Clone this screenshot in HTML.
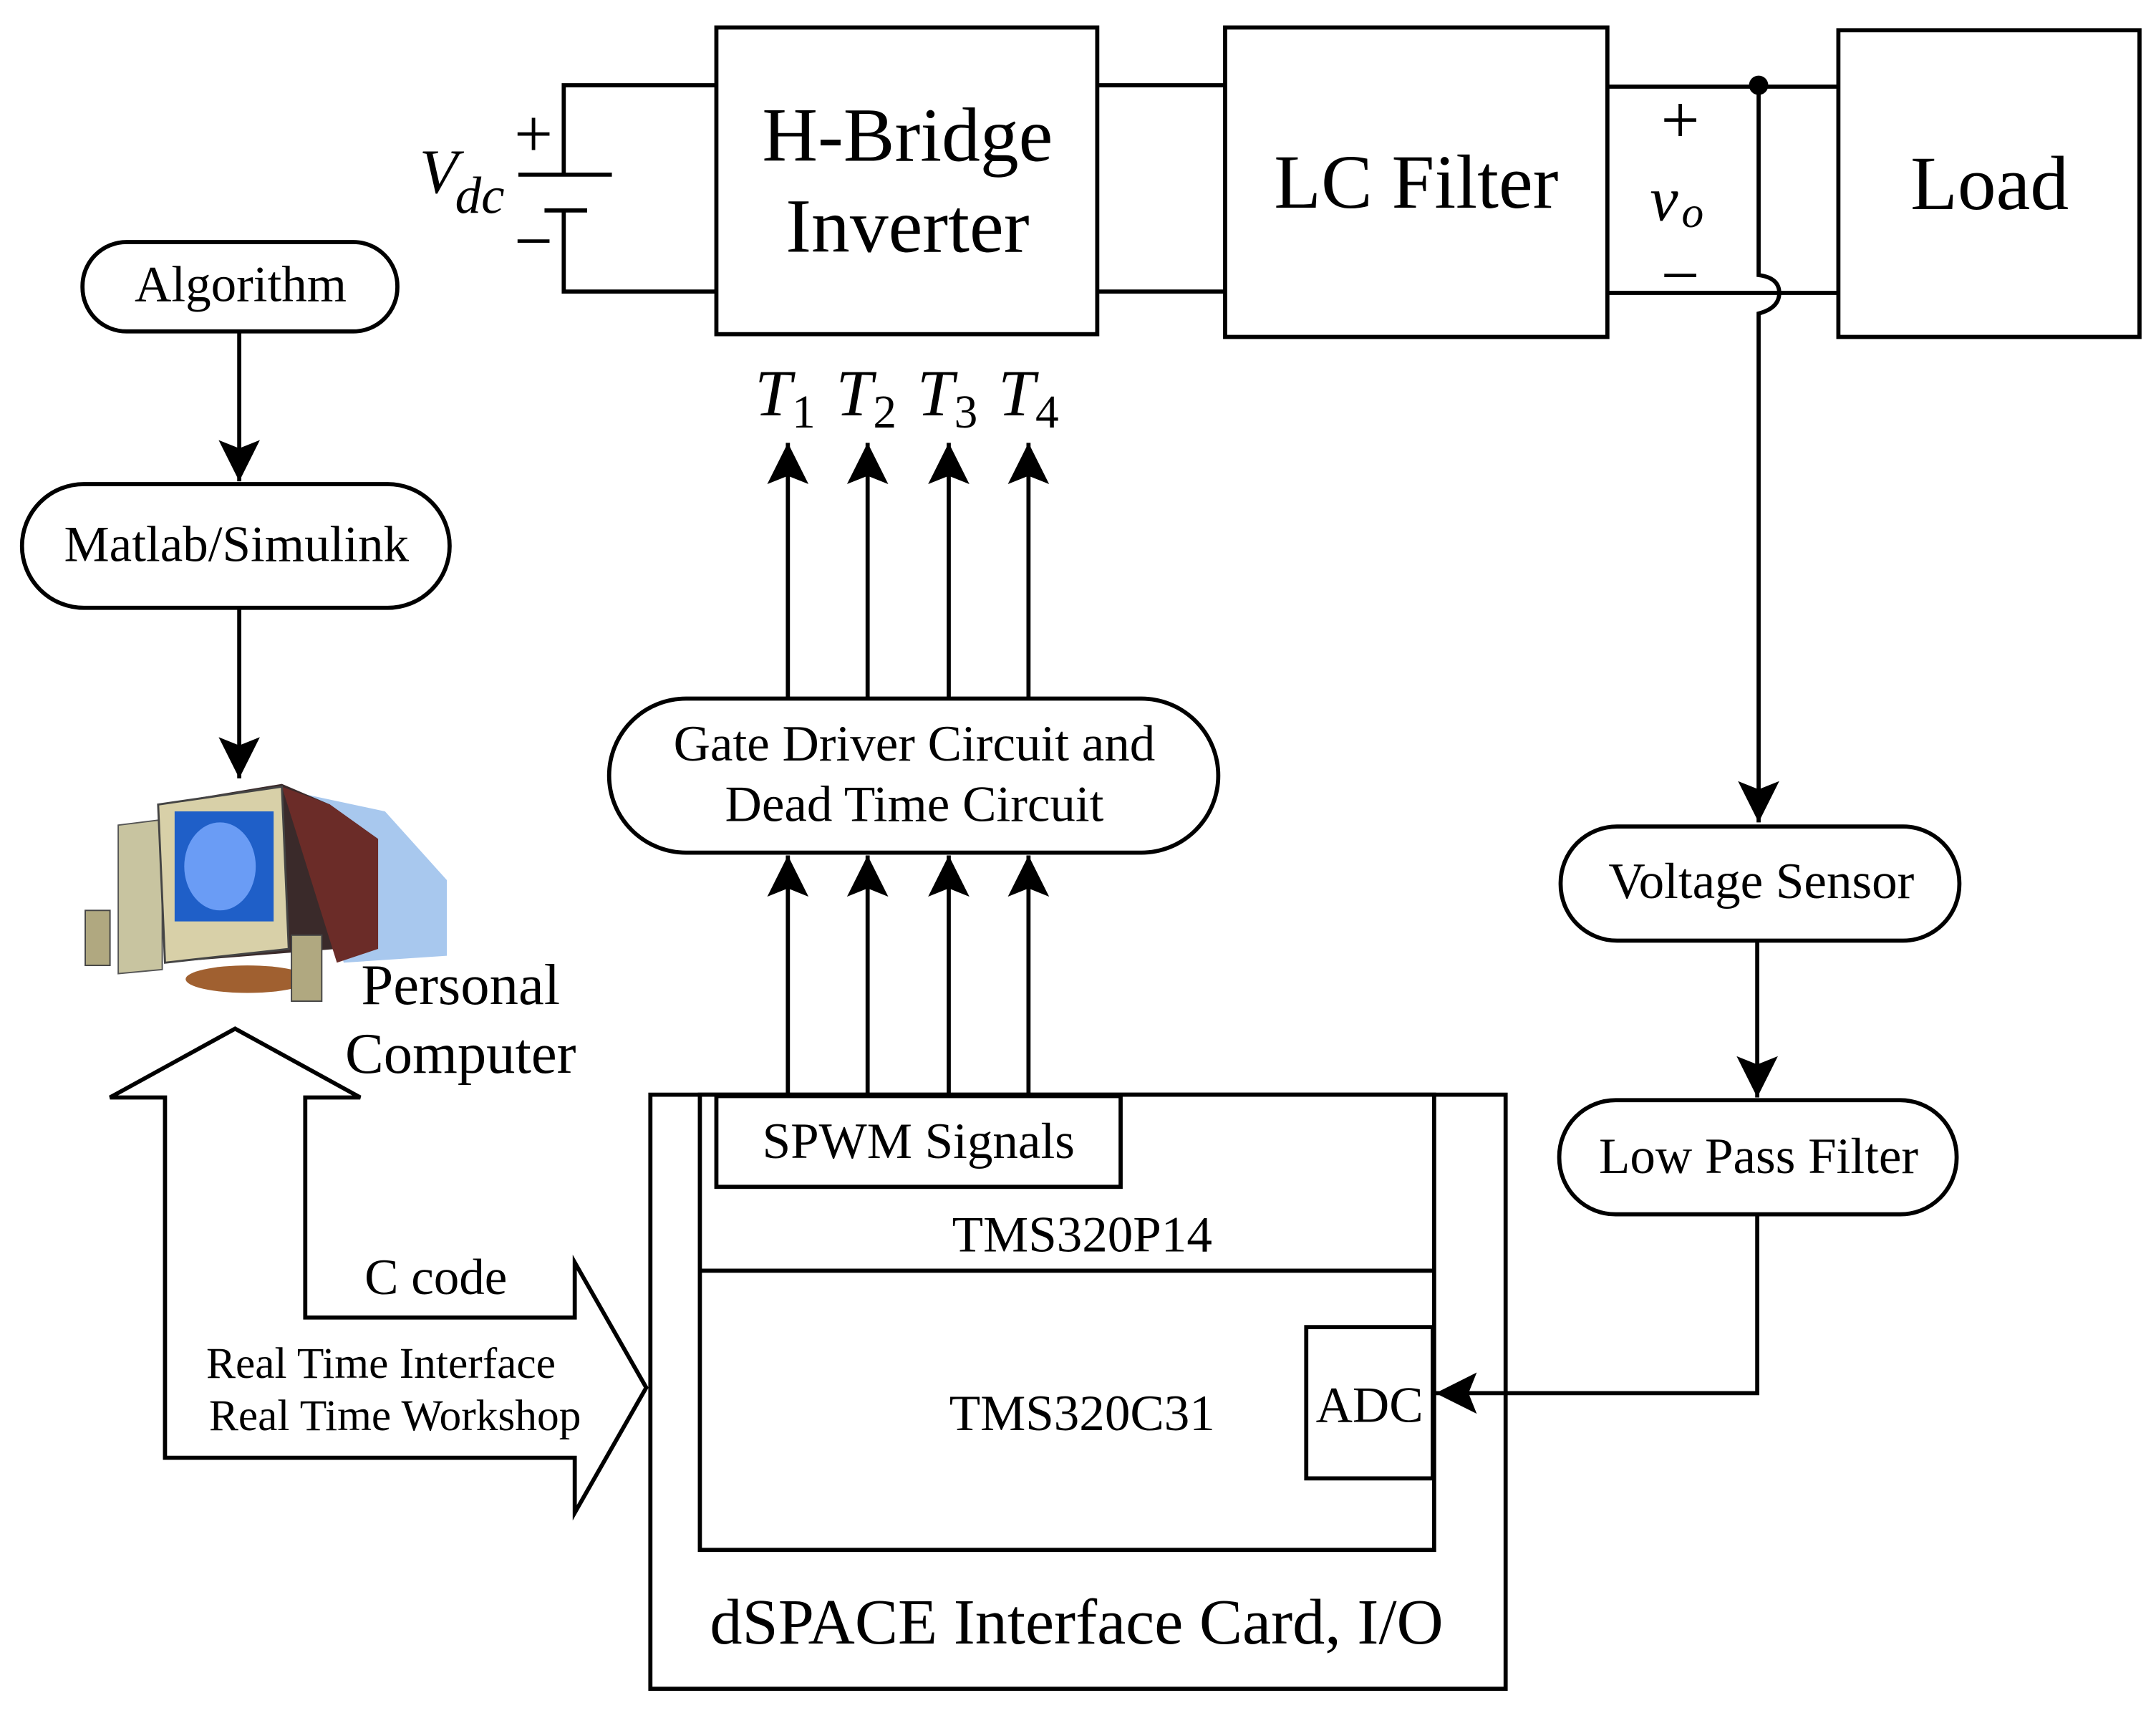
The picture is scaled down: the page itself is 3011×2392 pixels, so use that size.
<!DOCTYPE html>
<html><head><meta charset="utf-8"><style>
html,body{margin:0;padding:0;background:#fff}
svg{display:block}
text{font-family:"Liberation Serif",serif;fill:#000}
</style></head><body>
<svg width="3011" height="2392" viewBox="0 0 1568 1245.6" preserveAspectRatio="none" xmlns="http://www.w3.org/2000/svg">
<defs>
<marker id="ah" viewBox="0 0 30 30" refX="30" refY="15" markerWidth="30" markerHeight="30" markerUnits="userSpaceOnUse" orient="auto">
<path d="M0,0 L30,15 L0,30 L6,15 Z" fill="#000"/>
</marker>
</defs>
<g fill="none" stroke="#000" stroke-width="3">
<rect x="521" y="20" width="277" height="223"/>
<path d="M521,62 H410 V127 M377,127 H445 M396,153 H427 M410,153 V212 H521"/>
<path d="M798,62 H891 M798,212 H891"/>
<rect x="891" y="20" width="278" height="225"/>
<path d="M1169,63 H1337 M1169,213 H1337"/>
<rect x="1337" y="22" width="219" height="223"/>
<path d="M1279,62 V200 Q1294,202 1294,213 Q1294,224 1279,228 V598" marker-end="url(#ah)"/>
<rect x="1135" y="601" width="290" height="83" rx="41"/>
<path d="M1278,684 V798" marker-end="url(#ah)"/>
<rect x="1134" y="800" width="289" height="83" rx="41"/>
<path d="M1278,883 V1013 H1044" marker-end="url(#ah)"/>
<rect x="60" y="176" width="229" height="65" rx="32"/>
<path d="M174,241 V350" marker-end="url(#ah)"/>
<rect x="16" y="352" width="311" height="90" rx="45"/>
<path d="M174,442 V566" marker-end="url(#ah)"/>
<path d="M171,748 L80,798 H120 V1060 H418 V1100 L470,1009 L418,918 V958 H222 V798 H262 Z"/>
<rect x="443" y="508" width="443" height="112" rx="56"/>
<path d="M573,508 V322" marker-end="url(#ah)"/>
<path d="M631,508 V322" marker-end="url(#ah)"/>
<path d="M690,508 V322" marker-end="url(#ah)"/>
<path d="M748,508 V322" marker-end="url(#ah)"/>
<path d="M573,796 V622" marker-end="url(#ah)"/>
<path d="M631,796 V622" marker-end="url(#ah)"/>
<path d="M690,796 V622" marker-end="url(#ah)"/>
<path d="M748,796 V622" marker-end="url(#ah)"/>
<rect x="473" y="796" width="622" height="432"/>
<rect x="509" y="796" width="534" height="331"/>
<path d="M509,924 H1043"/>
<rect x="521" y="797" width="294" height="66" fill="#fff"/>
<rect x="950" y="965" width="92" height="110"/>
</g>
<circle cx="1279" cy="62" r="7" fill="#000"/>
<g>
<polygon points="210,575 280,590 325,640 325,695 250,700" fill="#a8c8ee"/>
<polygon points="86,600 118,596 118,705 86,708" fill="#c8c4a0" stroke="#555" stroke-width="1"/>
<polygon points="115,585 205,570 240,585 245,690 120,700" fill="#3a2a2a"/>
<polygon points="205,572 240,585 275,610 275,690 245,700" fill="#6b2c28"/>
<polygon points="115,585 205,572 210,690 120,700" fill="#d8d0a8" stroke="#444" stroke-width="1.5"/>
<rect x="127" y="590" width="72" height="80" fill="#1f5fc8"/>
<ellipse cx="160" cy="630" rx="26" ry="32" fill="#6a9cf5"/>
<ellipse cx="180" cy="712" rx="45" ry="10" fill="#a06030"/>
<rect x="62" y="662" width="18" height="40" fill="#b0a880" stroke="#444" stroke-width="1"/>
<rect x="212" y="680" width="22" height="48" fill="#b0a880" stroke="#444" stroke-width="1"/>
</g>
<g font-size="56" text-anchor="middle">
<text x="660" y="117">H-Bridge</text>
<text x="660" y="183">Inverter</text>
<text x="1030" y="151">LC Filter</text>
<text x="1447" y="152">Load</text>
</g>
<g font-size="50" text-anchor="middle">
<text x="388" y="114">+</text>
<text x="388" y="192">−</text>
<text x="1222" y="104">+</text>
<text x="1222" y="217">−</text>
</g>
<text x="305" y="140" font-size="46" font-style="italic">V</text>
<text x="331" y="155" font-size="38" font-style="italic">dc</text>
<text x="1200" y="160" font-size="46" font-style="italic">v</text>
<text x="1223" y="165" font-size="32" font-style="italic">o</text>
<g font-size="48" font-style="italic">
<text x="549" y="302">T</text><text x="608" y="302">T</text><text x="667" y="302">T</text><text x="726" y="302">T</text>
</g>
<g font-size="34">
<text x="576" y="311">1</text><text x="635" y="311">2</text><text x="694" y="311">3</text><text x="753" y="311">4</text>
</g>
<g font-size="37" text-anchor="middle">
<text x="175" y="219">Algorithm</text>
<text x="172" y="408">Matlab/Simulink</text>
<text x="665" y="553">Gate Driver Circuit and</text>
<text x="665" y="597">Dead Time Circuit</text>
<text x="1281" y="653">Voltage Sensor</text>
<text x="1279" y="853">Low Pass Filter</text>
<text x="668" y="842">SPWM Signals</text>
<text x="787" y="910">TMS320P14</text>
<text x="787" y="1040">TMS320C31</text>
<text x="996" y="1034">ADC</text>
<text x="317" y="941">C code</text>
</g>
<g font-size="42" text-anchor="middle">
<text x="335" y="730">Personal</text>
<text x="335" y="780">Computer</text>
</g>
<text x="150" y="1002" font-size="32">Real Time Interface</text>
<text x="152" y="1040" font-size="32">Real Time Workshop</text>
<text x="783" y="1195" font-size="47" text-anchor="middle">dSPACE Interface Card, I/O</text>
</svg>
</body></html>
